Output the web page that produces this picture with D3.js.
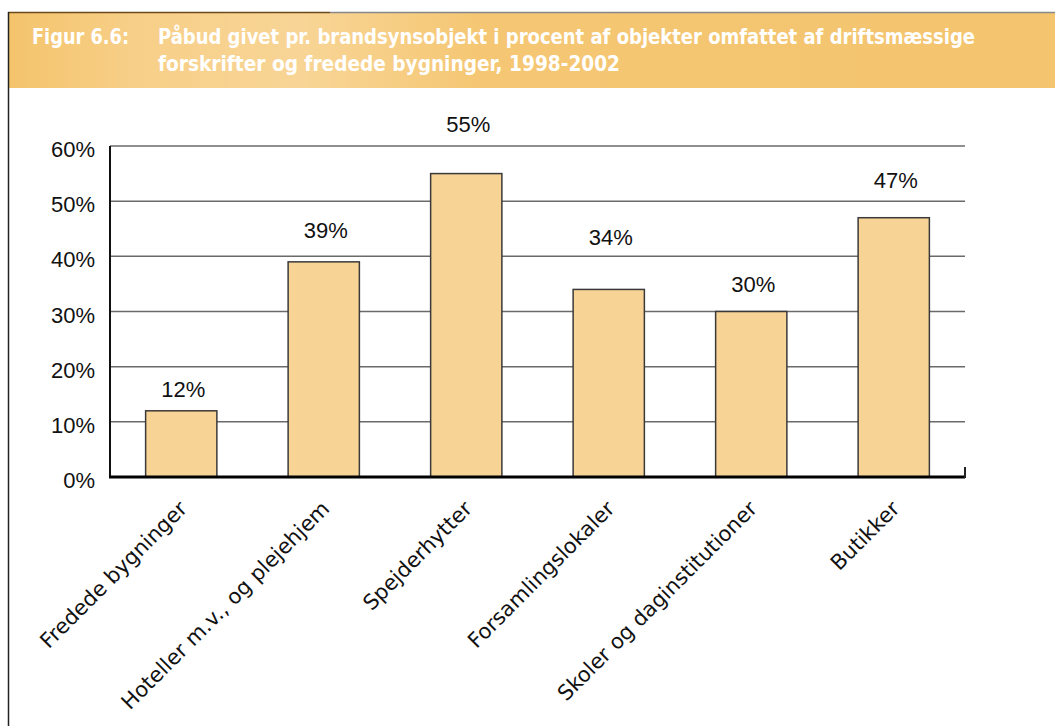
<!DOCTYPE html>
<html>
<head>
<meta charset="utf-8">
<script src="https://cdn.jsdelivr.net/npm/d3@7"></script>
<style>
  html, body { margin: 0; padding: 0; background: #fff; }
  svg { display: block; }
</style>
</head>
<body>
<svg id="chart" width="1055" height="726"></svg>
<script>
// ---- data ----
const categories = ["Fredede bygninger", "Hoteller m.v., og plejehjem", "Spejderhytter",
                    "Forsamlingslokaler", "Skoler og daginstitutioner", "Butikker"];
const values = [12, 39, 55, 34, 30, 47];
const valueLabels = ["12%", "39%", "55%", "34%", "30%", "47%"];
// level (in % units) at which each value label sits in the original
const labelLevels = [14.5, 43.3, 62.5, 42.0, 33.5, 52.4];
const yTicks = [0, 10, 20, 30, 40, 50, 60];
const yTickLabels = ["0%", "10%", "20%", "30%", "40%", "50%", "60%"];
const titleLabel = "Figur 6.6:";
const titleLines = ["Påbud givet pr. brandsynsobjekt i procent af objekter omfattet af driftsmæssige",
                    "forskrifter og fredede bygninger, 1998-2002"];

const svg = d3.select("#chart");
const W = 1055, H = 726;

// ---- header ----
const defs = svg.append("defs");
const grad = defs.append("linearGradient").attr("id", "hdr").attr("x1", 0).attr("x2", 1).attr("y1", 0).attr("y2", 0);
grad.append("stop").attr("offset", "0%").attr("stop-color", "#F4C46C");
grad.append("stop").attr("offset", "12%").attr("stop-color", "#F7CF88");
grad.append("stop").attr("offset", "28%").attr("stop-color", "#F8D596");
grad.append("stop").attr("offset", "45%").attr("stop-color", "#F5C774");
grad.append("stop").attr("offset", "100%").attr("stop-color", "#F4C46E");

svg.append("rect").attr("x", 8).attr("y", 13).attr("width", W - 8).attr("height", 75).attr("fill", "url(#hdr)");
svg.append("line").attr("x1", 8).attr("x2", 330).attr("y1", 12.5).attr("y2", 12.5).attr("stroke", "#6b4a1c").attr("stroke-width", 1.5);
svg.append("line").attr("x1", 330).attr("x2", W).attr("y1", 12.5).attr("y2", 12.5).attr("stroke", "#888").attr("stroke-width", 1.5);
svg.append("line").attr("x1", 8.5).attr("x2", 8.5).attr("y1", 12).attr("y2", H).attr("stroke", "#222").attr("stroke-width", 1.5);

const tFont = "'DejaVu Sans Condensed', 'DejaVu Sans', sans-serif";
svg.append("text").attr("x", 32).attr("y", 44).attr("fill", "#fff")
  .attr("font-family", tFont).attr("font-weight", "bold").attr("font-size", 21)
  .attr("textLength", 97).attr("lengthAdjust", "spacingAndGlyphs").text(titleLabel);
const lineLens = [817, 462];
titleLines.forEach((t, i) => {
  svg.append("text").attr("x", 158).attr("y", 44 + i * 26.5).attr("fill", "#fff")
    .attr("font-family", tFont).attr("font-weight", "bold").attr("font-size", 21)
    .attr("textLength", lineLens[i]).attr("lengthAdjust", "spacingAndGlyphs").text(t);
});

// ---- chart ----
const x0 = 110, x1 = 965, yTop = 146, yBot = 477;
const x = d3.scaleBand().domain(categories).range([x0, x1]).paddingInner(0.5).paddingOuter(0.25);
const y = d3.scaleLinear().domain([0, 60]).range([yBot, yTop]);

// gridlines
svg.append("g").selectAll("line").data(yTicks.filter(d => d > 0)).join("line")
  .attr("x1", x0).attr("x2", x1).attr("y1", d => y(d)).attr("y2", d => y(d))
  .attr("stroke", "#6a6a6a").attr("stroke-width", 1.5);

// y tick labels
svg.append("g").selectAll("text").data(yTicks).join("text")
  .attr("x", 95).attr("y", d => y(d)).attr("dy", "0.5em")
  .attr("text-anchor", "end").attr("font-family", "'Liberation Sans', Arial, sans-serif")
  .attr("font-size", 22).attr("fill", "#111")
  .text((d, i) => yTickLabels[i]);

// bars
svg.append("g").selectAll("rect").data(values).join("rect")
  .attr("x", (d, i) => x(categories[i])).attr("width", x.bandwidth())
  .attr("y", d => y(d)).attr("height", d => yBot - y(d))
  .attr("fill", "#F8D396").attr("stroke", "#3a3a3a").attr("stroke-width", 1.5);

// value labels
svg.append("g").selectAll("text").data(values).join("text")
  .attr("x", (d, i) => x(categories[i]) + x.bandwidth() / 2 + 2)
  .attr("y", (d, i) => y(labelLevels[i]))
  .attr("text-anchor", "middle").attr("font-family", "'Liberation Sans', Arial, sans-serif")
  .attr("font-size", 22).attr("fill", "#111")
  .text((d, i) => valueLabels[i]);

// axes
svg.append("line").attr("x1", x0).attr("x2", x0).attr("y1", yTop).attr("y2", yBot)
  .attr("stroke", "#111").attr("stroke-width", 2);
svg.append("line").attr("x1", x0 - 1).attr("x2", x1).attr("y1", yBot).attr("y2", yBot)
  .attr("stroke", "#000").attr("stroke-width", 3);
svg.append("line").attr("x1", x1).attr("x2", x1).attr("y1", yBot - 10).attr("y2", yBot + 1)
  .attr("stroke", "#222").attr("stroke-width", 2);

// category labels
svg.append("g").selectAll("text").data(categories).join("text")
  .attr("transform", d => `translate(${x(d) + x.bandwidth() / 2 + 7},510) rotate(-45)`)
  .attr("text-anchor", "end")
  .attr("font-family", "'DejaVu Sans', Verdana, sans-serif")
  .attr("font-size", 21).attr("fill", "#111")
  .text(d => d);
</script>
</body>
</html>
